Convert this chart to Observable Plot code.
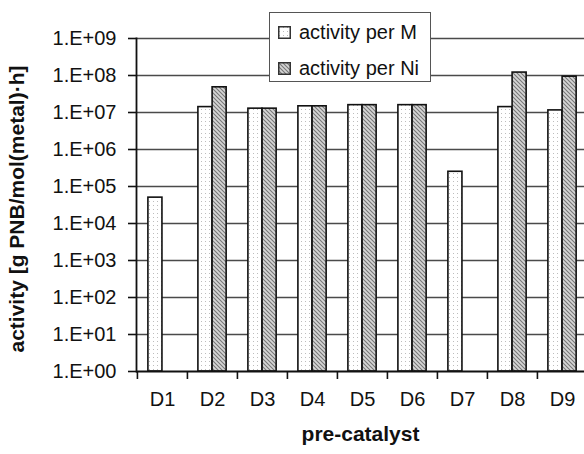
<!DOCTYPE html>
<html>
<head>
<meta charset="utf-8">
<script src="https://cdn.jsdelivr.net/npm/d3@7"></script>
<script src="https://cdn.jsdelivr.net/npm/@observablehq/plot@0.6"></script>
<style>
  body { margin: 0; background: #fff; overflow: hidden; font-family: "Liberation Sans", Arial, sans-serif; }
  #wrap { position: relative; width: 584px; height: 454px; overflow: hidden; }
  #legend { position: absolute; left: 269px; top: 12px; width: 160px; height: 68px;
    border: 1.5px solid #555; background: #fff; font-size: 20px; color: #111; }
  .item { position: absolute; left: 8px; display: flex; align-items: center; white-space: nowrap; }
  .item svg { margin-right: 8px; }
</style>
</head>
<body>
<div id="wrap"></div>
<script>
const categories = ["D1", "D2", "D3", "D4", "D5", "D6", "D7", "D8", "D9"];
const activityPerM  = [5e4, 1.4e7, 1.27e7, 1.47e7, 1.58e7, 1.58e7, 2.5e5, 1.4e7, 1.14e7];
const activityPerNi = [null, 4.8e7, 1.27e7, 1.47e7, 1.58e7, 1.58e7, null, 1.2e8, 9.3e7];
const seriesNames = ["activity per M", "activity per Ni"];
const yTicks = [1, 10, 100, 1e3, 1e4, 1e5, 1e6, 1e7, 1e8, 1e9];
const yTickLabels = ["1.E+00", "1.E+01", "1.E+02", "1.E+03", "1.E+04", "1.E+05", "1.E+06", "1.E+07", "1.E+08", "1.E+09"];
const yTitle = "activity [g PNB/mol(metal)·h]";
const xTitle = "pre-catalyst";

const rows = categories.map((c, i) => ({cat: c, m: activityPerM[i], ni: activityPerNi[i]}));

const x0 = 135.8, x1 = 587.2;
const bw = (x1 - x0) / categories.length;
const outer = 10.9, barW = 14.2;
const font = "'Liberation Sans', Arial, sans-serif";

const chart = Plot.plot({
  width: 584, height: 454,
  marginLeft: 136, marginRight: 0, marginTop: 38, marginBottom: 83,
  style: {fontFamily: font, fontSize: "20px", color: "#111", background: "#fff"},
  x: {type: "band", domain: categories, range: [x0, x1], padding: 0, axis: null},
  y: {type: "log", domain: [1, 1e9], range: [371, 38], axis: null},
  marks: [
    Plot.ruleY(yTicks.slice(1), {stroke: "#4a4a4a", strokeWidth: 1.6}),
    Plot.barY(rows.filter(d => d.m != null), {x: "cat", y1: 1, y2: "m", fill: "url(#dotsPat)",
      stroke: "#111", strokeWidth: 1.6, insetLeft: outer, insetRight: bw - outer - barW}),
    Plot.barY(rows.filter(d => d.ni != null), {x: "cat", y1: 1, y2: "ni", fill: "url(#hatchPat)",
      stroke: "#111", strokeWidth: 1.6, insetLeft: outer + barW, insetRight: bw - outer - 2 * barW}),
    Plot.ruleY([1], {stroke: "#111", strokeWidth: 1.8}),
    Plot.frame({anchor: "left", stroke: "#111", strokeWidth: 1.8}),
    Plot.axisY({ticks: yTicks, tickFormat: d => yTickLabels[yTicks.indexOf(d)], tickSize: 8, tickPadding: 12,
      strokeWidth: 1.6, stroke: "#111", fontSize: 20, label: null}),
    Plot.axisX({tickSize: 8, text: null, dx: -bw / 2, strokeWidth: 1.6, stroke: "#111", label: null}),
    Plot.text(categories, {x: d => d, frameAnchor: "bottom", dy: 34, fontSize: 20, fill: "#111"}),
    Plot.text([xTitle], {frameAnchor: "bottom", dy: 69, fontSize: 21, fontWeight: "bold", fill: "#111"}),
    Plot.text([yTitle], {frameAnchor: "left", textAnchor: "middle", rotate: -90, dx: -119, dy: 4,
      fontSize: 21, fontWeight: "bold", fill: "#111"})
  ]
});

const defs = `<defs>
<pattern id="dotsPat" width="4" height="4" patternUnits="userSpaceOnUse">
  <rect width="4" height="4" fill="#fff"/><rect x="1" y="1" width="1" height="1" fill="#bdbdbd"/>
</pattern>
<pattern id="hatchPat" width="4" height="4" patternUnits="userSpaceOnUse">
  <rect width="4" height="4" fill="#d6d6d6"/>
  <path d="M-1,-1 L5,5 M-1,3 L1,5 M3,-1 L5,1" stroke="#777" stroke-width="1.1"/>
</pattern>
</defs>`;
chart.insertAdjacentHTML("afterbegin", defs);
const wrap = document.getElementById("wrap");
wrap.appendChild(chart);

const legend = document.createElement("div");
legend.id = "legend";
const fills = ["url(#dotsPat)", "url(#hatchPat)"];
const tops = [8, 44];
seriesNames.forEach((name, i) => {
  const it = document.createElement("div");
  it.className = "item";
  it.style.top = tops[i] + "px";
  it.innerHTML = `<svg width="13" height="13"><rect x="0.75" y="0.75" width="11.5" height="11.5" fill="${fills[i]}" stroke="#333" stroke-width="1.5"/></svg><span>${name}</span>`;
  legend.appendChild(it);
});
wrap.appendChild(legend);
</script>
</body>
</html>
